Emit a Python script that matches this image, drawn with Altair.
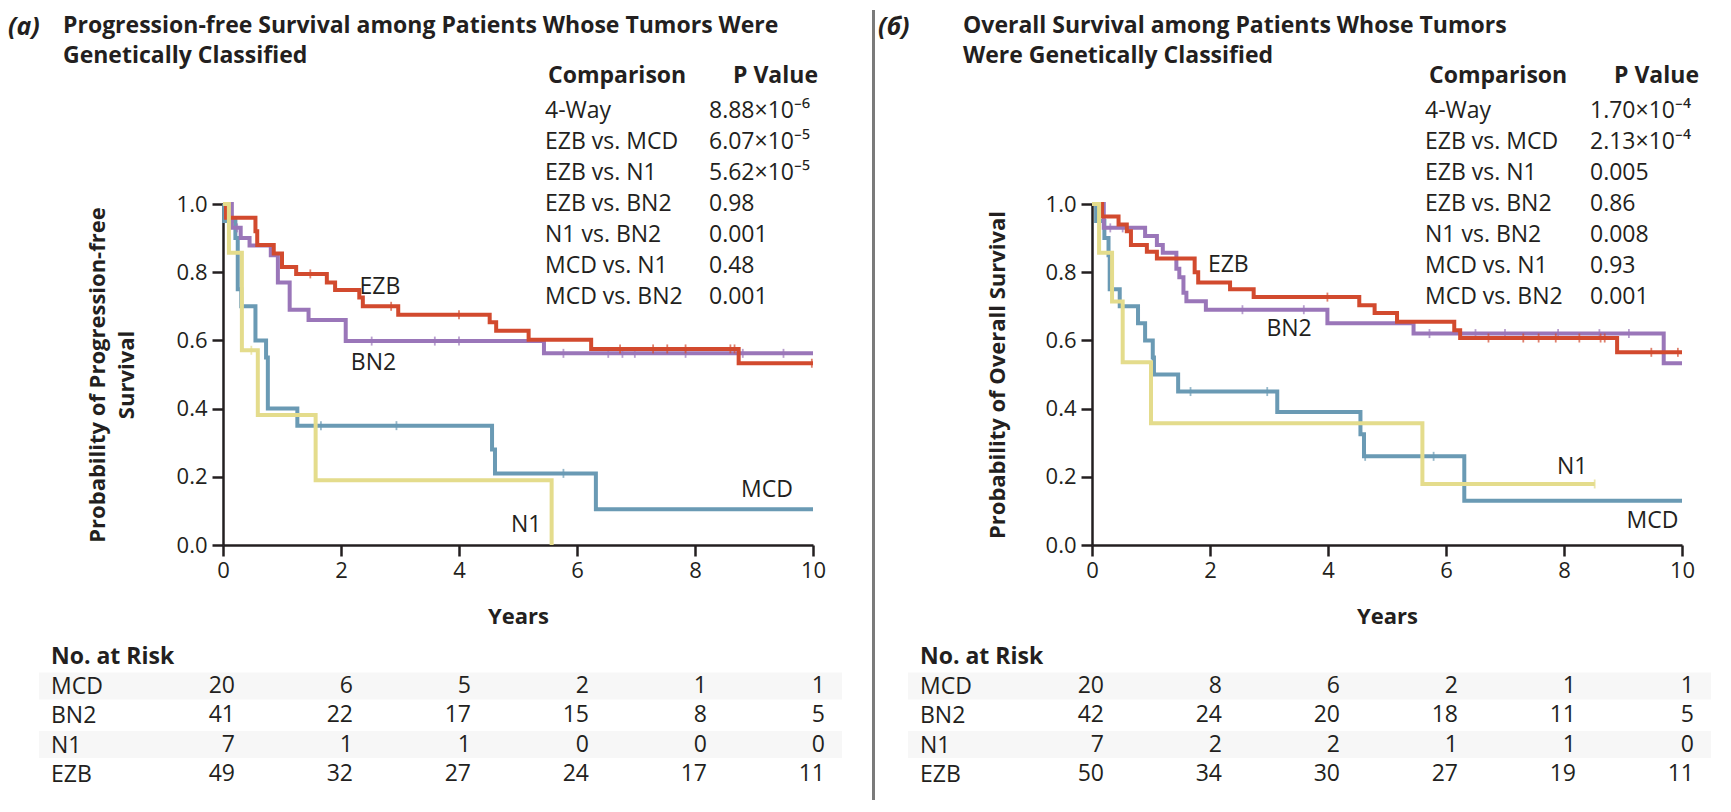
import altair as alt
import pandas as pd

# ---------------- data ----------------
GROUPS = ["MCD", "BN2", "N1", "EZB"]
COLORS = {"MCD": "#6A9AB4", "BN2": "#9A76B9", "N1": "#E4DC8C", "EZB": "#D24A2E"}
INK = "#231f20"
FONT = "Open Sans"

# Panel (a): progression-free survival, step change points (years, survival)
pfs_mcd_t = [0, 0.02, 0.21, 0.25, 0.31, 0.55, 0.73, 0.76, 1.26, 4.56, 4.61, 6.32, 10.0]
pfs_mcd_s = [1.0, 0.95, 0.90, 0.75, 0.70, 0.60, 0.55, 0.40, 0.35, 0.28, 0.21, 0.105, 0.105]
pfs_mcd_c = [1.66, 2.94, 5.77]

pfs_bn2_t = [0, 0.15, 0.30, 0.45, 0.81, 0.93, 1.13, 1.45, 2.08, 5.44, 10.0]
pfs_bn2_s = [1.0, 0.93, 0.90, 0.878, 0.85, 0.77, 0.69, 0.66, 0.598, 0.562, 0.562]
pfs_bn2_c = [0.24, 2.52, 3.59, 4.0, 5.77, 6.53, 6.77, 6.98, 7.84, 8.81, 9.5]

pfs_n1_t = [0, 0.10, 0.32, 0.59, 1.57, 5.57]
pfs_n1_s = [1.0, 0.857, 0.571, 0.381, 0.19, 0.0]
pfs_n1_c = [0.48]

pfs_ezb_t = [0, 0.05, 0.55, 0.58, 0.86, 1.0, 1.24, 1.76, 1.9, 2.31, 2.37, 2.97, 4.52, 4.63, 5.18, 6.24, 8.74, 10.0]
pfs_ezb_s = [1.0, 0.96, 0.92, 0.88, 0.855, 0.815, 0.795, 0.77, 0.748, 0.726, 0.70, 0.675, 0.653, 0.628, 0.602, 0.575, 0.533, 0.533]
pfs_ezb_c = [1.48, 2.85, 4.0, 6.73, 7.29, 7.53, 7.84, 8.6, 8.67, 9.98]

# Panel (б): overall survival
os_mcd_t = [0, 0.07, 0.21, 0.28, 0.30, 0.47, 0.78, 0.90, 1.03, 1.05, 1.46, 3.14, 4.55, 4.61, 6.31, 10.0]
os_mcd_s = [1.0, 0.95, 0.90, 0.85, 0.75, 0.70, 0.65, 0.60, 0.55, 0.50, 0.45, 0.39, 0.325, 0.26, 0.13, 0.13]
os_mcd_c = [1.67, 2.97, 4.63, 5.79]

os_bn2_t = [0, 0.20, 0.90, 1.10, 1.20, 1.43, 1.48, 1.55, 1.60, 1.93, 3.99, 5.45, 9.69, 10.0]
os_bn2_s = [1.0, 0.93, 0.906, 0.88, 0.857, 0.81, 0.785, 0.74, 0.715, 0.69, 0.65, 0.62, 0.533, 0.533]
os_bn2_c = [0.31, 0.52, 2.55, 3.59, 5.72, 6.5, 7.0, 7.9, 8.6, 9.1]

os_n1_t = [0, 0.12, 0.34, 0.52, 1.0, 5.6, 8.52]
os_n1_s = [1.0, 0.857, 0.714, 0.536, 0.357, 0.179, 0.179]
os_n1_c = [8.52]

os_ezb_t = [0, 0.17, 0.45, 0.59, 0.66, 0.93, 1.10, 1.74, 1.80, 2.34, 2.74, 4.53, 4.79, 5.17, 6.14, 6.24, 8.90, 10.0]
os_ezb_s = [1.0, 0.963, 0.94, 0.92, 0.88, 0.86, 0.84, 0.80, 0.77, 0.75, 0.727, 0.703, 0.68, 0.655, 0.63, 0.607, 0.565, 0.565]
os_ezb_c = [3.99, 6.72, 7.31, 7.57, 7.86, 8.26, 8.62, 8.69, 9.48, 9.93]

# Numbers at risk
risk_years = [0, 2, 4, 6, 8, 10]
pfs_risk_mcd = [20, 6, 5, 2, 1, 1]
pfs_risk_bn2 = [41, 22, 17, 15, 8, 5]
pfs_risk_n1 = [7, 1, 1, 0, 0, 0]
pfs_risk_ezb = [49, 32, 27, 24, 17, 11]
os_risk_mcd = [20, 8, 6, 2, 1, 1]
os_risk_bn2 = [42, 24, 20, 18, 11, 5]
os_risk_n1 = [7, 2, 2, 1, 1, 0]
os_risk_ezb = [50, 34, 30, 27, 19, 11]

# Comparison table
comparisons = ["4-Way", "EZB vs. MCD", "EZB vs. N1", "EZB vs. BN2", "N1 vs. BN2", "MCD vs. N1", "MCD vs. BN2"]
pfs_p = ["8.88×10⁻⁶", "6.07×10⁻⁵", "5.62×10⁻⁵", "0.98", "0.001", "0.48", "0.001"]
os_p = ["1.70×10⁻⁴", "2.13×10⁻⁴", "0.005", "0.86", "0.008", "0.93", "0.001"]

y_ticks = [0.0, 0.2, 0.4, 0.6, 0.8, 1.0]

pfs_title = ["Progression-free Survival among Patients Whose Tumors Were", "Genetically Classified"]
os_title = ["Overall Survival among Patients Whose Tumors", "Were Genetically Classified"]
pfs_ytitle = ["Probability of Progression-free", "Survival"]
os_ytitle = "Probability of Overall Survival"

# ---------------- layout (pixels relative to plot origin) ----------------
W, H = 590, 341
LAYOUT_A = dict(tag="(a)", tag_x=-215, title_x=-160, ytx=-135.5, head_c=325, head_p=510,
                lab_x=322, val_x=486, divider=None,
                labels={"EZB": (2.66, 0.756), "BN2": (2.55, 0.535), "MCD": (9.22, 0.16), "N1": (5.14, 0.06)})
LAYOUT_B = dict(tag="(б)", tag_x=-214, title_x=-129, ytx=-104.5, head_c=337, head_p=522,
                lab_x=333, val_x=498, divider=-218.5,
                labels={"EZB": (2.31, 0.82), "BN2": (3.34, 0.633), "N1": (8.14, 0.228), "MCD": (9.5, 0.071)})
TITLE_Y = -189
TAG_Y = -177
ROW0 = -94
ROW_H = 31
RISK_HEAD = 453
RISK_ROW0 = 482
RISK_ROW_H = 29.3
RISK_LABEL_X = -172
BAND_X = (-184, 619)


def step_value(ts, ss, x):
    v = ss[0]
    for t, s in zip(ts, ss):
        if t <= x:
            v = s
    return v


def one():
    return pd.DataFrame({"k": [0]})


def build_panel(L, title_lines, ytitle, curves, risk, pvals):
    xs = alt.Scale(domain=[0, 10], nice=False, zero=False)
    ys = alt.Scale(domain=[0, 1], nice=False, zero=False)
    axis_common = dict(labelFontSize=22, labelColor=INK, labelFont=FONT, labelFlush=False,
                       labelOverlap=False, tickSize=11, tickWidth=2.5, tickColor=INK,
                       domainWidth=2.5, domainColor=INK, grid=False,
                       titleFontSize=22, titleFontWeight="bold", titleColor=INK, titleFont=FONT)
    xaxis = alt.Axis(values=risk_years, format="d", title="Years", titleY=71,
                     titleBaseline="middle", labelPadding=4, **axis_common)
    yaxis = alt.Axis(values=y_ticks, format=".1f", title=ytitle, titleX=L["ytx"], titleY=H / 2,
                     titleAngle=270, titleBaseline="top", titleAlign="center",
                     titleLineHeight=29, labelPadding=5, **axis_common)
    X = alt.X("t:Q", scale=xs, axis=xaxis)
    Y = alt.Y("s:Q", scale=ys, axis=yaxis)

    layers = []
    # shaded risk-table rows
    for r in (0, 2):
        yc = RISK_ROW0 + r * RISK_ROW_H
        layers.append(alt.Chart(one()).mark_rect(color="#f7f7f7").encode(
            x=alt.value(BAND_X[0]), x2=alt.value(BAND_X[1]),
            y=alt.value(yc - 13.5), y2=alt.value(yc + 13.5)))

    # survival curves with censoring ticks
    for g in ["MCD", "BN2", "EZB", "N1"]:
        ts, ss, cs = curves[g]
        df = pd.DataFrame({"t": ts, "s": ss})
        layers.append(alt.Chart(df).mark_line(interpolate="step-after", strokeWidth=4,
                                              color=COLORS[g]).encode(x=X, y=Y))
        cdf = pd.DataFrame({"t": cs, "s": [step_value(ts, ss, c) for c in cs]})
        layers.append(alt.Chart(cdf).mark_tick(orient="vertical", size=9, thickness=1.8,
                                               color=COLORS[g]).encode(x=X, y=Y))

    # group labels
    lab = pd.DataFrame({"t": [L["labels"][g][0] for g in GROUPS],
                        "s": [L["labels"][g][1] for g in GROUPS],
                        "label": GROUPS})
    layers.append(alt.Chart(lab).mark_text(fontSize=23, font=FONT, color=INK,
                                           baseline="middle").encode(x=X, y=Y, text="label:N"))

    # panel tag and title
    layers.append(alt.Chart(one()).mark_text(text=L["tag"], fontSize=25, font=FONT, fontWeight="bold",
                                             fontStyle="italic", color=INK, align="left",
                                             baseline="middle").encode(
        x=alt.value(L["tag_x"]), y=alt.value(TAG_Y)))
    layers.append(alt.Chart(one()).mark_text(text=title_lines, fontSize=23, font=FONT, fontWeight="bold",
                                             color=INK, align="left", baseline="top",
                                             lineHeight=30).encode(
        x=alt.value(L["title_x"]), y=alt.value(TITLE_Y)))

    # comparison table
    for txt, xx in (("Comparison", L["head_c"]), ("P Value", L["head_p"])):
        layers.append(alt.Chart(one()).mark_text(text=txt, fontSize=23, font=FONT, fontWeight="bold",
                                                 color=INK, align="left", baseline="middle").encode(
            x=alt.value(xx), y=alt.value(-128)))
    for lines, xx in ((comparisons, L["lab_x"]), (pvals, L["val_x"])):
        layers.append(alt.Chart(one()).mark_text(text=lines, fontSize=23, font=FONT, color=INK,
                                                 align="left", baseline="top",
                                                 lineHeight=ROW_H).encode(
            x=alt.value(xx), y=alt.value(ROW0 - 10)))

    # numbers at risk
    layers.append(alt.Chart(one()).mark_text(text="No. at Risk", fontSize=23, font=FONT, fontWeight="bold",
                                             color=INK, align="left", baseline="middle").encode(
        x=alt.value(RISK_LABEL_X), y=alt.value(RISK_HEAD)))
    layers.append(alt.Chart(one()).mark_text(text=GROUPS, fontSize=23, font=FONT, color=INK,
                                             align="left", baseline="top",
                                             lineHeight=RISK_ROW_H).encode(
        x=alt.value(RISK_LABEL_X), y=alt.value(RISK_ROW0 - 10)))
    for i, g in enumerate(GROUPS):
        rdf = pd.DataFrame({"t": risk_years, "n": risk[g]})
        layers.append(alt.Chart(rdf).mark_text(fontSize=23, font=FONT, color=INK, align="right",
                                               baseline="middle", dx=12).encode(
            x=X, y=alt.value(RISK_ROW0 + i * RISK_ROW_H), text=alt.Text("n:Q", format="d")))

    if L["divider"] is not None:
        layers.append(alt.Chart(one()).mark_rule(color="#7a7a7a", strokeWidth=3).encode(
            x=alt.value(L["divider"]), y=alt.value(-194), y2=alt.value(596)))

    return alt.layer(*layers).properties(width=W, height=H)


left = build_panel(
    LAYOUT_A, pfs_title, pfs_ytitle,
    {"MCD": (pfs_mcd_t, pfs_mcd_s, pfs_mcd_c), "BN2": (pfs_bn2_t, pfs_bn2_s, pfs_bn2_c),
     "N1": (pfs_n1_t, pfs_n1_s, pfs_n1_c), "EZB": (pfs_ezb_t, pfs_ezb_s, pfs_ezb_c)},
    {"MCD": pfs_risk_mcd, "BN2": pfs_risk_bn2, "N1": pfs_risk_n1, "EZB": pfs_risk_ezb},
    pfs_p)

right = build_panel(
    LAYOUT_B, os_title, os_ytitle,
    {"MCD": (os_mcd_t, os_mcd_s, os_mcd_c), "BN2": (os_bn2_t, os_bn2_s, os_bn2_c),
     "N1": (os_n1_t, os_n1_s, os_n1_c), "EZB": (os_ezb_t, os_ezb_s, os_ezb_c)},
    {"MCD": os_risk_mcd, "BN2": os_risk_bn2, "N1": os_risk_n1, "EZB": os_risk_ezb},
    os_p)

chart = alt.hconcat(left, right, spacing=279, bounds="flush").properties(
    padding={"left": 0, "top": 0, "right": 0, "bottom": 0}
).configure(font=FONT).configure_view(stroke=None)

chart.save("out.html", embed_options={"renderer": "svg", "actions": False})
